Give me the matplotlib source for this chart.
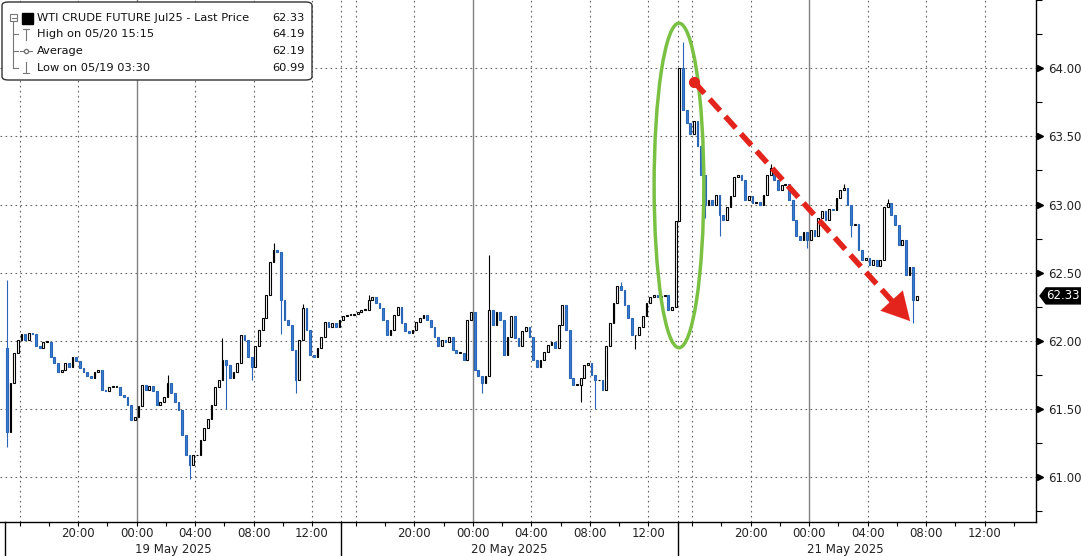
import matplotlib.pyplot as plt
import numpy as np
import matplotlib.transforms as mtransforms
from matplotlib.patches import Ellipse, FancyBboxPatch, Polygon, Rectangle
from matplotlib.lines import Line2D

# 15-minute closes, one list per trading session (15:00 -> 14:00)
s1_close = [61.33, 61.69, 61.91, 62.01, 62.05, 62.01, 62.06, 62.05, 61.96, 61.95,
            61.99, 61.99, 61.88, 61.84, 61.77, 61.79, 61.84, 61.81, 61.88, 61.85,
            61.80, 61.77, 61.74, 61.73, 61.77, 61.79, 61.64, 61.63, 61.66, 61.66,
            61.66, 61.60, 61.59, 61.53, 61.42, 61.44, 61.52, 61.68, 61.64, 61.67,
            61.63, 61.53, 61.55, 61.59, 61.69, 61.62, 61.55, 61.49, 61.31, 61.16,
            61.09, 61.16, 61.16, 61.27, 61.36, 61.43, 61.53, 61.66, 61.71, 61.86,
            61.82, 61.73, 61.77, 61.84, 62.04, 62.01, 61.88, 61.81, 61.96, 62.08,
            62.17, 62.34, 62.58, 62.67, 62.65, 62.30, 62.15, 62.12, 61.93, 61.71,
            62.01, 62.24, 62.08, 61.90, 61.88, 61.95, 62.03, 62.14, 62.10, 62.13,
            62.10, 62.15]
s2_close = [62.18, 62.19, 62.19, 62.20, 62.21, 62.23, 62.23, 62.30, 62.32, 62.28,
            62.24, 62.15, 62.04, 62.08, 62.19, 62.25, 62.13, 62.07, 62.06, 62.08,
            62.14, 62.17, 62.19, 62.15, 62.10, 62.03, 61.96, 62.01, 61.99, 62.03,
            61.93, 61.91, 61.91, 61.86, 62.15, 62.21, 61.79, 61.74, 61.69, 61.74,
            62.23, 62.12, 62.21, 62.15, 61.90, 62.03, 62.18, 62.02, 61.96, 62.07,
            62.10, 62.03, 61.86, 61.81, 61.86, 61.92, 61.97, 61.99, 61.95, 62.12,
            62.26, 62.08, 61.73, 61.68, 61.68, 61.73, 61.82, 61.84, 61.75, 61.71,
            61.71, 61.64, 61.96, 62.13, 62.28, 62.40, 62.37, 62.26, 62.17, 62.04,
            62.04, 62.10, 62.18, 62.28, 62.32, 62.34, 62.32, 62.33, 62.34, 62.23,
            62.25, 62.88]
s3_close = [64.00, 63.69, 63.60, 63.52, 63.61, 63.43, 63.22, 63.00, 63.03, 63.00,
            63.07, 62.92, 62.89, 62.98, 63.06, 63.20, 63.22, 63.18, 63.03, 63.06,
            63.01, 63.02, 63.00, 63.07, 63.22, 63.27, 63.18, 63.11, 63.14, 63.15,
            63.03, 62.89, 62.77, 62.74, 62.80, 62.74, 62.81, 62.77, 62.90, 62.95,
            62.89, 62.97, 62.96, 63.05, 63.11, 63.12, 63.00, 62.85, 62.86, 62.67,
            62.59, 62.61, 62.56, 62.59, 62.55, 62.59, 62.98, 63.01, 62.92, 62.85,
            62.70, 62.74, 62.48, 62.54, 62.30, 62.33]
first_open = 61.95

# notable wicks: bar index -> price
wick_high = {0: 62.45, 44: 61.75, 59: 62.02, 73: 62.72, 81: 62.27,
             99: 62.34, 132: 62.63, 168: 62.43,
             185: 64.19, 209: 63.30, 229: 63.15, 241: 63.04}
wick_low = {0: 61.22, 50: 60.99, 60: 61.50, 67: 61.71, 75: 62.05, 79: 61.62,
            130: 61.62, 157: 61.55, 161: 61.50, 172: 61.94,
            191: 62.90, 195: 62.77, 219: 62.68, 231: 62.76, 248: 62.13}

session_dates = ['19 May 2025', '20 May 2025', '21 May 2025']
legend_rows = ['WTI CRUDE FUTURE Jul25 - Last Price', 'High on 05/20 15:15',
               'Average', 'Low on 05/19 03:30']
legend_vals = ['62.33', '64.19', '62.19', '60.99']
last_price = 62.33

SESSION_LEN = 23
BARS_PER_SESSION = 92

closes = np.array(s1_close + s2_close + s3_close)
opens = np.concatenate([[first_open], closes[:-1]])
n = len(closes)
idx = np.arange(n)
pos = (idx // BARS_PER_SESSION) * SESSION_LEN + (idx % BARS_PER_SESSION) * 0.25 + 0.125
highs = np.maximum(opens, closes)
lows = np.minimum(opens, closes)
for k, v in wick_high.items():
    highs[k] = v
for k, v in wick_low.items():
    lows[k] = v
up = closes >= opens

W, H = 1081, 556
fig = plt.figure(figsize=(W / 100, H / 100), dpi=100)
ax = fig.add_axes([0, 1 - 522 / H, 1036 / W, 522 / H])

blue = '#3a80d0'
ax.vlines(pos[up], lows[up], highs[up], color='black', lw=0.8, zorder=3)
ax.vlines(pos[~up], lows[~up], highs[~up], color='#2a66b5', lw=0.8, zorder=3)
body_lo = np.minimum(opens, closes)
body_h = np.maximum(np.abs(closes - opens), 0.006)
ax.bar(pos[up], body_h[up], bottom=body_lo[up], width=0.12, facecolor='white',
       edgecolor='black', linewidth=0.8, zorder=4)
ax.bar(pos[~up], body_h[~up], bottom=body_lo[~up], width=0.12, facecolor=blue,
       edgecolor='#2a66b5', linewidth=0.8, zorder=4)

ax.set_xlim(-0.34, 70.52)
ax.set_ylim(60.672, 64.5)

# grid
yt = np.arange(61.0, 64.01, 0.5)
for v in yt:
    ax.axhline(v, color='#666666', lw=0.8, ls=(0, (1.5, 3)), zorder=1)
for s in range(3):
    base = s * SESSION_LEN
    for clock in [16, 20, 4, 8, 12]:
        ax.axvline(base + (clock - 15) % 24, color='#666666', lw=0.8, ls=(0, (1.5, 3)), zorder=1)
    ax.axvline(base + 9, color='#808080', lw=1.0, zorder=1)
    if s > 0:
        ax.axvline(base, color='#666666', lw=0.8, ls=(0, (1.5, 3)), zorder=1)

# x ticks
tick_pos, tick_lab = [], []
for s in range(3):
    for clock in [16, 18, 20, 22, 0, 2, 4, 6, 8, 10, 12, 14]:
        tick_pos.append(s * SESSION_LEN + (clock - 15) % 24)
        tick_lab.append(f'{clock:02d}:00' if clock % 4 == 0 and clock != 16 else '')
ax.set_xticks(tick_pos)
ax.set_xticklabels(tick_lab, fontsize=8.5, color='#222222')
ax.tick_params(axis='x', length=3, width=0.8, pad=0.5)

blend = mtransforms.blended_transform_factory(ax.transData, ax.transAxes)
for s, lab in enumerate(session_dates):
    ax.text(s * SESSION_LEN + SESSION_LEN / 2, -0.053, lab, transform=blend,
            ha='center', va='center', fontsize=8.5, color='#222222')
    ax.plot([s * SESSION_LEN] * 2, [0, -0.07], transform=blend, color='black',
            lw=1, clip_on=False)

# y axis on the right
ax.yaxis.tick_right()
ax.set_yticks(yt)
ax.set_yticklabels([f'{v:.2f}' for v in yt], fontsize=8.5, color='#222222')
ax.set_yticks(np.arange(60.75, 64.51, 0.25), minor=True)
ax.tick_params(axis='y', which='major', length=0, pad=9)
ax.tick_params(axis='y', which='minor', length=4, width=0.8)
yblend = mtransforms.blended_transform_factory(ax.transAxes, ax.transData)
ax.plot(np.full(len(yt), 1.0035), yt, marker='>', ms=5, color='black', ls='none',
        transform=yblend, clip_on=False)

for side in ['left', 'top']:
    ax.spines[side].set_visible(False)
for side in ['right', 'bottom']:
    ax.spines[side].set_linewidth(1.0)
    ax.spines[side].set_color('black')

# last price tag
hh = 8 / 136.4
tx = 1 / 1036
tag = Polygon([(1.0 + 4 * tx, last_price), (1.0 + 10 * tx, last_price + hh),
               (1.0 + 45 * tx, last_price + hh), (1.0 + 45 * tx, last_price - hh),
               (1.0 + 10 * tx, last_price - hh)], closed=True, facecolor='black',
              edgecolor='black', transform=yblend, clip_on=False, zorder=6)
ax.add_patch(tag)
ax.text(1.0 + 27 * tx, last_price, f'{last_price:.2f}', transform=yblend, color='white',
        ha='center', va='center', fontsize=8.5, zorder=7)

# annotations: green ellipse and red dashed arrow
ax.add_patch(Ellipse((46.1, 63.14), 3.4, 2.38, fill=False, ec='#7ac143', lw=2.5, zorder=5))
red = '#e3241c'
x0, y0 = 47.13, 63.90
x1, y1 = 62.04, 62.13
frac = 0.92
xb, yb = x0 + (x1 - x0) * frac, y0 + (y1 - y0) * frac
ax.plot([x0, xb], [y0, yb], color=red, lw=4, ls=(0, (2.8, 1.4)), zorder=6,
        solid_capstyle='butt')
ax.plot([x0], [y0], marker='o', ms=7, color=red, zorder=6)
ax.annotate('', xy=(x1, y1), xytext=(xb - (x1 - x0) * 0.02, yb - (y1 - y0) * 0.02),
            arrowprops=dict(arrowstyle='-|>,head_length=1.1,head_width=0.6',
                            color=red, lw=0.1, mutation_scale=18), zorder=6)


# legend box (pixel coordinates, top-left origin)
def px(x, y):
    return x / W, 1 - y / H


lx, ly = px(2, 80)
fig.add_artist(FancyBboxPatch((lx, ly), 310 / W, 78 / H,
                              boxstyle='round,pad=0,rounding_size=0.006',
                              transform=fig.transFigure, facecolor='white',
                              edgecolor='#333333', lw=1, zorder=10))
rows_y = [18, 34, 51, 68]
for ry, lab, val in zip(rows_y, legend_rows, legend_vals):
    fig.text(*px(37, ry), lab, ha='left', va='center', fontsize=8.2, color='#111111', zorder=11)
    fig.text(*px(305, ry), val, ha='right', va='center', fontsize=8.2, color='#111111', zorder=11)
gray = '#777777'
fig.add_artist(Line2D(*zip(px(13, 21), px(13, 68)), color=gray, lw=0.8, zorder=11))
for ry in rows_y[1:]:
    fig.add_artist(Line2D(*zip(px(13, ry), px(18, ry)), color=gray, lw=0.8, zorder=11))
fig.add_artist(Rectangle(px(10, 21), 7 / W, 7 / H, transform=fig.transFigure,
                         facecolor='white', edgecolor=gray, lw=0.8, zorder=11))
fig.add_artist(Line2D(*zip(px(11.5, 17.5), px(15.5, 17.5)), color=gray, lw=0.8, zorder=12))
fig.add_artist(Rectangle(px(22, 24), 11 / W, 11 / H, transform=fig.transFigure,
                         facecolor='black', edgecolor='black', zorder=11))
# high icon
fig.add_artist(Line2D(*zip(px(25.5, 29), px(25.5, 40)), color=gray, lw=0.8, zorder=11))
fig.add_artist(Line2D(*zip(px(22.5, 29), px(28.5, 29)), color=gray, lw=0.8, zorder=11))
# average icon
fig.add_artist(Line2D(*zip(px(20, 51), px(32, 51)), color=gray, lw=0.8, zorder=11))
fig.add_artist(Line2D([px(26, 51)[0]], [px(26, 51)[1]], marker='o', ms=3, mfc='white',
                      mec=gray, color=gray, zorder=12))
# low icon
fig.add_artist(Line2D(*zip(px(25.5, 62), px(25.5, 73)), color=gray, lw=0.8, zorder=11))
fig.add_artist(Line2D(*zip(px(22.5, 73), px(28.5, 73)), color=gray, lw=0.8, zorder=11))

fig.savefig('out.png', dpi=100)
